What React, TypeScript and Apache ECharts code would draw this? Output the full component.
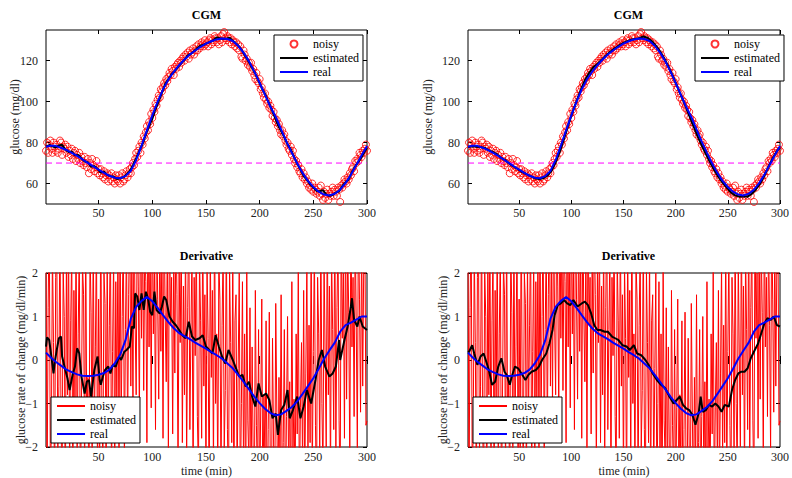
import React, { useEffect, useRef } from "react";
import * as echarts from "echarts";

// ---------- axis ticks ----------
const timeTicks = [50, 100, 150, 200, 250, 300];
const cgmTicks = [60, 80, 100, 120];
const derivTicks = [-2, -1, 0, 1, 2];
const hypoThreshold = 70;

// ---------- noisy CGM samples, one per minute (t = 1..300) ----------
const noisyCGM = [
  76, 80, 75, 79, 81, 77, 75, 80, 78, 76,
  79, 75, 77, 81, 80, 74, 78, 77, 79, 75,
  78, 73, 76, 74, 77, 72, 75, 76, 71, 74,
  72, 75, 70, 73, 71, 69, 73, 70, 68, 72,
  65, 70, 67, 72, 69, 66, 68, 71, 65, 67,
  64, 67, 65, 63, 66, 62, 64, 65, 61, 64,
  62, 65, 61, 63, 60, 64, 62, 61, 64, 60,
  63, 65, 61, 62, 64, 66, 63, 65, 67, 65,
  68, 70, 69, 72, 75, 73, 76, 78, 75, 80,
  79, 83, 82, 85, 88, 86, 90, 89, 94, 92,
  96, 95, 99, 98, 101, 103, 102, 106, 105, 107,
  109, 108, 111, 110, 112, 114, 113, 116, 115, 113,
  117, 116, 118, 119, 117, 120, 119, 121, 122, 120,
  123, 122, 124, 121, 125, 123, 124, 126, 123, 125,
  127, 125, 128, 126, 127, 129, 128, 127, 130, 128,
  129, 127, 130, 131, 128, 130, 129, 132, 131, 129,
  131, 128, 130, 132, 129, 133, 134, 131, 130, 132,
  131, 129, 131, 128, 130, 129, 127, 129, 126, 128,
  125, 127, 122, 121, 125, 123, 120, 121, 118, 119,
  117, 119, 115, 116, 113, 111, 114, 110, 109, 111,
  106, 107, 104, 102, 104, 101, 99, 100, 97, 98,
  96, 93, 95, 92, 90, 91, 88, 89, 86, 84,
  86, 83, 84, 81, 79, 80, 77, 76, 78, 74,
  76, 72, 70, 71, 68, 69, 66, 65, 67, 63,
  65, 62, 63, 60, 61, 58, 59, 57, 60, 56,
  58, 57, 55, 56, 58, 54, 59, 55, 52, 56,
  53, 55, 57, 52, 55, 54, 56, 58, 54, 57,
  56, 54, 58, 57, 51, 59, 58, 60, 62, 61,
  60, 63, 62, 65, 64, 67, 68, 66, 71, 70,
  72, 71, 75, 74, 73, 76, 75, 77, 79, 76,
];

// ---------- noisy derivative, one per minute (t = 1..300) ----------
const noisyDeriv = [
  2.8, -3.1, 1.2, 3.5, -2.4, -1.8, 2.6, 0.4, -3.3, 1.9,
  2.9, -2.2, -0.6, 3.4, -1.5, -2.9, 2.1, 1.0, -3.6, 2.4,
  -0.8, 3.1, -2.7, 0.9, 2.5, -3.4, 1.6, -1.2, 3.0, -2.3,
  0.6, 2.7, -3.2, -1.1, 2.2, 1.5, -2.8, 3.3, -1.9, -0.4,
  -3.5, 2.6, 1.1, -2.4, 3.2, -1.7, 0.3, 2.9, -3.0, 1.4,
  -2.1, 3.6, -0.9, -2.6, 2.0, 1.3, -3.2, 2.5, -1.4, 0.8,
  3.1, -2.9, 0.2, 2.4, -3.0, 1.8, -1.1, 2.7, -2.2, 3.4,
  -1.6, 1.0, 3.2, -2.5, 0.7, 2.8, -1.9, 1.5, 3.6, -0.6,
  2.4, -1.2, 3.8, 0.9, -0.8, 3.5, 1.7, -1.4, 4.0, 0.5,
  3.3, -0.7, 2.6, 1.8, -1.9, 4.2, 0.3, 2.9, -1.1, 3.7,
  0.6, 2.2, -1.6, 3.9, 1.4, -0.9, 3.1, 0.2, 2.7, -1.8,
  3.4, 1.1, -0.5, 2.8, -2.3, 3.6, 0.8, 1.9, -1.7, 2.5,
  -0.3, 3.2, 1.5, -2.6, 2.1, 0.4, 3.0, -1.9, 1.7, -0.8,
  2.9, -2.4, 1.2, 3.4, -1.6, 0.7, 2.5, -3.1, 1.9, 0.1,
  3.1, -1.3, -2.7, 2.4, 0.9, -1.8, 3.3, -0.6, 1.5, -2.9,
  2.2, 0.5, -3.4, 2.8, -0.4, 1.6, -2.6, 3.5, -1.0, 0.6,
  -2.8, 2.3, 1.4, -3.0, 0.8, 2.6, -2.1, -0.7, 3.0, -1.6,
  -3.2, 2.1, 0.4, -1.9, 2.7, -3.5, 0.9, 1.5, -2.8, -0.2,
  2.0, -3.3, -1.0, 1.8, -2.6, 0.6, -3.7, 2.2, -1.4, -2.4,
  1.2, -3.1, 0.3, -2.2, -3.8, 1.6, -1.5, -2.9, 0.7, -3.4,
  -1.1, 1.4, -3.6, -0.8, -2.5, 0.9, -3.9, -1.6, 1.1, -2.7,
  -3.3, 0.5, -2.0, -3.8, 1.3, -1.2, -3.5, -0.4, -2.6, 1.5,
  -3.0, -1.9, 0.7, -3.6, -1.3, 1.0, -2.8, -0.5, -3.4, 1.8,
  -2.2, -0.9, -3.1, 0.6, -1.7, 2.1, -3.3, -1.1, 0.4, -2.6,
  1.6, -3.0, -0.3, 2.3, -2.4, 0.8, -1.9, 3.0, -2.8, 0.2,
  2.6, -1.5, -3.2, 1.9, 0.6, -2.3, 3.1, -1.0, -2.7, 2.4,
  0.1, -2.0, 3.3, -0.8, 1.7, -3.0, 2.5, 0.7, -1.6, 3.6,
  -2.2, 1.2, 2.8, -1.4, -3.1, 3.4, 0.5, 2.0, -1.8, 3.2,
  -0.9, 2.6, 1.1, -2.5, 3.7, 0.3, 1.9, -1.3, 3.0, 0.8,
  -2.1, 3.5, 1.4, -1.2, 2.9, -0.6, 2.3, 3.1, -1.5, -1.4,
];

// ---------- real signal (every 5 min) ----------
const realTimes = [
  1, 5, 10, 15, 20, 25, 30, 35, 40, 45, 50, 55, 60, 65, 70, 75, 80, 85, 90, 95,
  100, 105, 110, 115, 120, 125, 130, 135, 140, 145, 150, 155, 160, 165, 170, 175,
  180, 185, 190, 195, 200, 205, 210, 215, 220, 225, 230, 235, 240, 245, 250, 255,
  260, 265, 270, 275, 280, 285, 290, 295, 300,
];
const realCGM = [
  78.0, 78.5, 78.4, 77.5, 76.4, 75.0, 73.5, 71.8, 70.1, 68.4, 66.8, 65.2, 63.8, 62.8,
  62.6, 63.6, 66.2, 71.5, 78.5, 86.0, 93.3, 100.0, 106.0, 110.8, 114.6, 117.8, 120.6,
  123.0, 125.0, 126.8, 128.3, 129.5, 130.4, 130.8, 130.6, 129.6, 127.3, 124.0, 119.8,
  114.8, 109.2, 103.3, 97.6, 92.5, 86.5, 80.5, 75.0, 69.8, 65.2, 61.3, 58.3, 56.0,
  54.6, 54.2, 55.0, 57.0, 60.2, 64.3, 69.0, 73.8, 78.3,
];
const realDeriv = [
  0.17, 0.07, -0.04, -0.13, -0.22, -0.28, -0.33, -0.36, -0.37, -0.36, -0.34, -0.3,
  -0.22, -0.08, 0.12, 0.45, 0.95, 1.22, 1.36, 1.45, 1.35, 1.2, 1.03, 0.87, 0.73, 0.62,
  0.55, 0.48, 0.4, 0.33, 0.26, 0.18, 0.11, 0.03, -0.08, -0.19, -0.34, -0.5, -0.67,
  -0.84, -0.99, -1.12, -1.22, -1.27, -1.25, -1.17, -1.08, -0.95, -0.78, -0.6, -0.42,
  -0.2, 0.03, 0.22, 0.4, 0.65, 0.8, 0.86, 0.93, 1.0, 1.0,
];

// ---------- estimated CGM, left panel ----------
const estCGMLeftTimes = [
  1, 4, 7, 10, 13, 16, 19, 22, 25, 28, 31, 34, 37, 40, 43, 46, 49, 52, 55, 58, 61, 64,
  67, 70, 73, 76, 79, 82, 85, 88, 91, 94, 97, 100, 103, 106, 109, 112, 115, 118, 121,
  124, 127, 130, 133, 136, 139, 142, 145, 148, 151, 154, 157, 160, 163, 166, 169, 172,
  175, 178, 181, 184, 187, 190, 193, 196, 199, 202, 205, 208, 211, 214, 217, 220, 223,
  226, 229, 232, 235, 238, 241, 244, 247, 250, 253, 256, 259, 262, 265, 268, 271, 274,
  277, 280, 283, 286, 289, 292, 295, 298, 300,
];
const estCGMLeft = [
  78.0, 78.8, 78.2, 77.6, 78.6, 78.9, 76.6, 75.4, 75.6, 73.8, 73.9, 72.4, 70.8, 70.4,
  68.2, 68.6, 67.2, 65.4, 65.8, 64.2, 63.6, 63.4, 62.2, 62.6, 63.0, 64.4, 66.0, 69.0,
  72.4, 76.0, 79.4, 84.0, 88.0, 91.6, 96.4, 100.2, 104.4, 108.6, 111.0, 113.4, 115.0,
  117.0, 118.8, 120.4, 122.6, 123.4, 124.6, 126.2, 127.4, 127.8, 128.6, 129.2, 130.0,
  131.4, 131.0, 130.6, 130.8, 131.2, 129.8, 128.4, 126.8, 124.6, 122.0, 119.4, 116.4,
  113.6, 110.2, 106.6, 103.8, 100.0, 96.4, 92.6, 88.6, 85.6, 82.6, 79.0, 76.6, 73.0,
  69.6, 66.8, 63.6, 61.8, 59.6, 58.0, 56.4, 56.2, 56.8, 54.6, 54.0, 54.4, 55.6, 56.2,
  58.8, 60.6, 62.0, 65.6, 68.4, 70.6, 73.0, 75.8, 77.4,
];

// ---------- estimated CGM, right panel ----------
const estCGMRightTimes = [
  1, 5, 9, 13, 17, 21, 25, 29, 33, 37, 41, 45, 49, 53, 57, 61, 65, 69, 73, 77, 81, 85,
  89, 93, 97, 101, 105, 109, 113, 117, 121, 125, 129, 133, 137, 141, 145, 149, 153,
  157, 161, 165, 169, 173, 177, 181, 185, 189, 193, 197, 201, 205, 209, 213, 217, 221,
  225, 229, 233, 237, 241, 245, 249, 253, 257, 261, 265, 269, 273, 277, 281, 285, 289,
  293, 297, 300,
];
const estCGMRight = [
  77.8, 78.2, 78.0, 77.8, 77.4, 76.2, 75.4, 74.2, 72.4, 71.4, 69.6, 68.2, 67.0, 65.6,
  64.6, 63.6, 62.6, 62.2, 62.6, 63.8, 66.2, 70.4, 75.6, 81.8, 88.4, 94.6, 100.2, 105.6,
  110.4, 114.0, 116.8, 118.4, 120.4, 122.4, 124.2, 125.8, 127.2, 128.4, 129.4, 130.2,
  130.6, 131.0, 131.8, 131.2, 129.6, 127.4, 124.6, 121.2, 117.2, 112.8, 108.0, 103.2,
  98.4, 93.2, 88.2, 83.2, 78.6, 74.4, 70.4, 66.6, 63.2, 60.4, 58.0, 55.6, 54.2, 53.6,
  53.8, 53.6, 55.0, 57.2, 60.0, 63.8, 68.2, 72.4, 75.8, 77.6,
];

// ---------- estimated derivative, left panel ----------
const estDerivLeftTimes = [
  1, 2, 4, 6, 8, 9, 11, 13, 15, 16, 19, 21, 23, 26, 28, 30, 32, 34, 37, 39, 41, 43, 46,
  49, 51, 52, 54, 56, 59, 61, 63, 66, 69, 71, 74, 76, 79, 81, 83, 84, 86, 88, 90, 92,
  94, 96, 98, 100, 102, 104, 107, 109, 111, 113, 116, 119, 122, 125, 128, 131, 134,
  137, 140, 144, 147, 150, 153, 156, 159, 162, 165, 168, 171, 175, 178, 181, 184, 187,
  190, 193, 196, 199, 202, 206, 209, 212, 215, 217, 220, 223, 226, 228, 231, 235, 238,
  241, 244, 248, 252, 255, 258, 261, 265, 268, 271, 274, 275, 279, 282, 285, 286, 288,
  291, 293, 296, 298, 300,
];
const estDerivLeft = [
  0.31, 0.52, 0.46, 0.08, -0.31, -0.08, 0.23, 0.5, 0.54, 0.08, -0.23, -0.42, -0.69,
  -0.31, -0.15, 0.27, 0.15, -0.38, -0.77, -0.5, -0.46, -0.84, -0.23, 0.08, -0.46,
  -0.57, -0.38, -0.23, -0.15, -0.31, -0.12, -0.15, 0.08, 0.0, 0.19, 0.23, 0.31, 0.77,
  0.73, 1.53, 1.46, 1.15, 1.53, 1.15, 1.57, 1.42, 1.11, 1.03, 1.57, 1.15, 1.07, 1.23,
  1.46, 1.38, 1.0, 0.88, 0.8, 0.69, 0.57, 0.5, 0.88, 0.54, 0.46, 0.5, 0.57, 0.31, 0.23,
  0.15, 0.57, 0.31, 0.08, -0.08, 0.23, 0.0, -0.19, -0.38, -0.34, -0.61, -0.5, -0.84,
  -1.07, -0.54, -0.84, -0.77, -0.92, -1.34, -1.23, -1.72, -1.15, -1.03, -0.69, -1.34,
  -1.15, -0.84, -1.34, -1.07, -0.69, -1.0, -0.46, 0.0, 0.23, -0.15, -0.38, -0.31,
  -0.15, 0.46, 0.0, 0.46, 0.77, 1.23, 1.42, 0.92, 0.77, 1.0, 0.77, 0.73, 0.69,
];

// ---------- estimated derivative, right panel ----------
const estDerivRightTimes = [
  1, 2, 5, 7, 10, 13, 16, 18, 21, 24, 27, 30, 33, 36, 38, 41, 43, 46, 49, 53, 56, 59,
  62, 66, 69, 72, 76, 79, 82, 84, 87, 90, 93, 96, 99, 102, 106, 110, 113, 116, 119,
  122, 125, 128, 132, 135, 139, 142, 145, 149, 153, 156, 160, 163, 167, 171, 174, 178,
  182, 186, 190, 194, 198, 201, 204, 207, 210, 213, 216, 219, 222, 224, 226, 229, 232,
  235, 238, 241, 244, 247, 251, 254, 257, 260, 263, 266, 269, 272, 275, 279, 282, 285,
  288, 291, 294, 297, 300,
];
const estDerivRight = [
  0.17, 0.19, 0.34, 0.15, -0.11, 0.08, 0.15, 0.0, -0.23, -0.57, -0.5, -0.15, 0.04,
  -0.27, -0.34, -0.57, -0.38, -0.15, -0.19, -0.34, -0.46, -0.34, -0.27, -0.23, -0.15,
  0.0, 0.15, 0.38, 0.69, 1.03, 1.26, 1.3, 1.38, 1.3, 1.26, 1.38, 1.23, 1.3, 1.34, 1.26,
  1.07, 0.8, 0.69, 0.69, 0.65, 0.65, 0.54, 0.5, 0.46, 0.34, 0.31, 0.23, 0.34, 0.15,
  0.11, 0.0, -0.11, -0.31, -0.46, -0.57, -0.65, -0.84, -1.0, -0.92, -0.84, -1.03,
  -1.11, -1.15, -1.26, -1.49, -1.23, -0.84, -1.19, -1.15, -1.03, -1.07, -1.0, -1.07,
  -1.19, -1.03, -1.07, -0.69, -0.46, -0.31, -0.27, -0.27, -0.19, 0.04, 0.19, 0.38,
  0.61, 0.84, 0.96, 0.92, 1.0, 0.8, 0.77,
];

// ---------- texts ----------
const panelTitles = ["CGM", "CGM", "Derivative", "Derivative"];
const legendLabels = ["noisy", "estimated", "real"];
const yLabelCGM = "glucose (mg/dl)";
const yLabelDeriv = "glucose rate of change (mg/dl/min)";
const xLabel = "time (min)";

const FONT = '"Liberation Serif", "Times New Roman", "DejaVu Serif", serif';

const zip = (xs: number[], ys: number[]) => xs.map((x, i) => [x, ys[i]]);
const perMinute = (ys: number[]) => ys.map((y, i) => [i + 1, y]);
const minusSign = (v: number) => String(v).replace("-", "\u2212");

function buildOption() {
  const grids = [
    { left: 46, top: 30, width: 321, height: 174 },
    { left: 468, top: 30, width: 321, height: 174 },
    { left: 46, top: 273, width: 321, height: 174 },
    { left: 468, top: 273, width: 321, height: 174 },
  ].map((g) => ({ ...g, show: true, borderColor: "#000", borderWidth: 1, backgroundColor: "#fff" }));

  const tick = (values: number[]) => ({
    show: true,
    inside: true,
    length: 4,
    customValues: values,
    lineStyle: { color: "#000", width: 1 },
  });
  const labelStyle = { fontFamily: FONT, fontSize: 12, color: "#222" };

  const xAxis: any[] = [];
  const yAxis: any[] = [];
  const yNameGaps = [25, 34, 19, 19];
  for (let g = 0; g < 4; g++) {
    const isDeriv = g >= 2;
    xAxis.push({
      type: "value",
      gridIndex: g,
      min: 1,
      max: 300,
      axisLine: { show: false },
      splitLine: { show: false },
      axisTick: tick(timeTicks),
      axisLabel: { ...labelStyle, margin: isDeriv ? 4 : 3, customValues: timeTicks },
      name: isDeriv ? xLabel : "",
      nameLocation: "middle",
      nameGap: 18,
      nameMoveOverlap: false,
      nameTextStyle: { fontFamily: FONT, fontSize: 12, color: "#222", lineHeight: 12 },
    });
    const yTicks = isDeriv ? derivTicks : cgmTicks;
    yAxis.push({
      type: "value",
      gridIndex: g,
      min: isDeriv ? -2 : 50,
      max: isDeriv ? 2 : 135,
      axisLine: { show: false },
      splitLine: { show: false },
      axisTick: tick(yTicks),
      axisLabel: {
        ...labelStyle,
        margin: 8,
        customValues: yTicks,
        formatter: (v: number) => minusSign(v),
      },
      name: isDeriv ? yLabelDeriv : yLabelCGM,
      nameLocation: "middle",
      nameRotate: 90,
      nameGap: yNameGaps[g],
      nameMoveOverlap: false,
      nameTextStyle: { fontFamily: FONT, fontSize: 12, color: "#222" },
    });
  }
  // mirrored tick axes (top / right box ticks)
  for (let g = 0; g < 4; g++) {
    const isDeriv = g >= 2;
    xAxis.push({
      type: "value",
      gridIndex: g,
      position: "top",
      min: 1,
      max: 300,
      axisLine: { show: false },
      splitLine: { show: false },
      axisTick: tick(timeTicks),
      axisLabel: { show: false, customValues: timeTicks },
    });
    const yTicks = isDeriv ? derivTicks : cgmTicks;
    yAxis.push({
      type: "value",
      gridIndex: g,
      position: "right",
      min: isDeriv ? -2 : 50,
      max: isDeriv ? 2 : 135,
      axisLine: { show: false },
      splitLine: { show: false },
      axisTick: tick(yTicks),
      axisLabel: { show: false, customValues: yTicks },
    });
  }

  const series: any[] = [];
  const nm = (label: string, g: number) => `${label}#${g}`;
  for (let g = 0; g < 2; g++) {
    series.push({
      type: "line",
      name: `threshold#${g}`,
      xAxisIndex: g,
      yAxisIndex: g,
      data: [
        [1, hypoThreshold],
        [300, hypoThreshold],
      ],
      symbol: "none",
      silent: true,
      lineStyle: { color: "#ff00ff", width: 1, type: [6, 4] },
    });
    series.push({
      type: "scatter",
      name: nm(legendLabels[0], g),
      xAxisIndex: g,
      yAxisIndex: g,
      data: perMinute(noisyCGM),
      symbol: "circle",
      symbolSize: 7,
      itemStyle: { color: "rgba(255,255,255,0)", borderColor: "#ff0000", borderWidth: 1 },
    });
    series.push({
      type: "line",
      name: nm(legendLabels[1], g),
      xAxisIndex: g,
      yAxisIndex: g,
      data: g === 0 ? zip(estCGMLeftTimes, estCGMLeft) : zip(estCGMRightTimes, estCGMRight),
      symbol: "none",
      lineStyle: { color: "#000", width: 2 },
      itemStyle: { color: "#000" },
    });
    series.push({
      type: "line",
      name: nm(legendLabels[2], g),
      xAxisIndex: g,
      yAxisIndex: g,
      data: zip(realTimes, realCGM),
      symbol: "none",
      lineStyle: { color: "#0000ff", width: 2 },
      itemStyle: { color: "#0000ff" },
    });
  }
  for (let g = 2; g < 4; g++) {
    series.push({
      type: "line",
      name: nm(legendLabels[0], g),
      xAxisIndex: g,
      yAxisIndex: g,
      data: perMinute(noisyDeriv),
      symbol: "none",
      lineStyle: { color: "#ff0000", width: 1 },
      itemStyle: { color: "#ff0000" },
    });
    series.push({
      type: "line",
      name: nm(legendLabels[1], g),
      xAxisIndex: g,
      yAxisIndex: g,
      data: g === 2 ? zip(estDerivLeftTimes, estDerivLeft) : zip(estDerivRightTimes, estDerivRight),
      symbol: "none",
      lineStyle: { color: "#000", width: 2 },
      itemStyle: { color: "#000" },
    });
    series.push({
      type: "line",
      name: nm(legendLabels[2], g),
      xAxisIndex: g,
      yAxisIndex: g,
      data: zip(realTimes, realDeriv),
      symbol: "none",
      lineStyle: { color: "#0000ff", width: 2 },
      itemStyle: { color: "#0000ff" },
    });
  }

  const legendPos = [
    { left: 274, top: 35 },
    { left: 695, top: 35 },
    { left: 51, top: 397 },
    { left: 473, top: 397 },
  ];
  const hiddenSymbol = { opacity: 0 };
  const legend = legendPos.map((p, g) => ({
    ...p,
    orient: "vertical",
    data: legendLabels.map((l, i) => {
      const name = nm(l, g);
      // line entries: show only the line, not a symbol
      const isLineEntry = g >= 2 || i > 0;
      return isLineEntry ? { name, itemStyle: hiddenSymbol } : { name };
    }),
    formatter: (n: string) => n.split("#")[0],
    selectedMode: false,
    itemWidth: 28,
    itemHeight: 7,
    itemGap: 0,
    padding: [2, 4, 2, 5],
    borderColor: "#000",
    borderWidth: 1,
    borderRadius: 0,
    backgroundColor: "#fff",
    textStyle: { fontFamily: FONT, fontSize: 12, color: "#000", lineHeight: 14 },
  }));

  const titleX = [206.5, 628.5, 206.5, 628.5];
  const titleY = [9, 9, 250, 250];
  const title = panelTitles.map((t, g) => ({
    text: t,
    left: titleX[g],
    top: titleY[g],
    textAlign: "center",
    padding: 0,
    textStyle: { fontFamily: FONT, fontSize: 12, fontWeight: "bold", color: "#000" },
  }));

  return {
    animation: false,
    backgroundColor: "#fff",
    title,
    legend,
    grid: grids,
    xAxis,
    yAxis,
    series,
  };
}

export default function App() {
  const ref = useRef<HTMLDivElement>(null);
  useEffect(() => {
    if (!ref.current) return;
    const chart = echarts.init(ref.current, undefined, { renderer: "svg" });
    chart.setOption(buildOption() as any);
    return () => chart.dispose();
  }, []);
  return (
    <div
      ref={ref}
      style={{ position: "absolute", left: 0, top: 0, width: 792, height: 478, background: "#fff" }}
    />
  );
}
